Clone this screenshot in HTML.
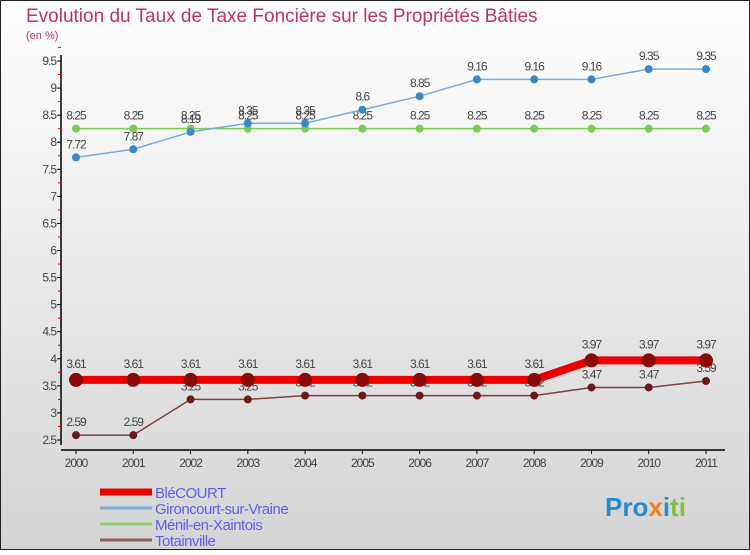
<!DOCTYPE html>
<html><head><meta charset="utf-8"><style>
body{margin:0}
#c{width:750px;height:550px;position:relative;font-family:"Liberation Sans",sans-serif}
</style></head><body>
<div id="c">
<svg id="s" width="750" height="550" xmlns="http://www.w3.org/2000/svg">
<defs><linearGradient id="bg" x1="0" y1="0" x2="0" y2="1"><stop offset="0" stop-color="#ffffff"/><stop offset="1" stop-color="#d4d4d4"/></linearGradient></defs>
<rect x="0.5" y="0.5" width="749" height="549" fill="url(#bg)" stroke="#222"/>
<text x="26" y="22" font-size="19" fill="#c0306a">Evolution du Taux de Taxe Foncière sur les Propriétés Bâties</text>
<text x="26" y="39" font-size="11" fill="#c0306a">(en %)</text>
<g id="g"></g>
<text x="605" y="516" font-size="26" font-weight="bold"><tspan fill="#2a8ad0">Pro</tspan><tspan fill="#f08020">x</tspan><tspan fill="#2a8ad0">i</tspan><tspan fill="#80c040">ti</tspan></text>
</svg>
</div>
<script>
const years=[2000,2001,2002,2003,2004,2005,2006,2007,2008,2009,2010,2011];
const yTicks=[2.5,3,3.5,4,4.5,5,5.5,6,6.5,7,7.5,8,8.5,9,9.5];
const blecourt=[3.61,3.61,3.61,3.61,3.61,3.61,3.61,3.61,3.61,3.97,3.97,3.97];
const gironcourt=[7.72,7.87,8.19,8.35,8.35,8.6,8.85,9.16,9.16,9.16,9.35,9.35];
const menil=[8.25,8.25,8.25,8.25,8.25,8.25,8.25,8.25,8.25,8.25,8.25,8.25];
const totainville=[2.59,2.59,3.25,3.25,3.32,3.32,3.32,3.32,3.32,3.47,3.47,3.59];
const NS="http://www.w3.org/2000/svg",g=document.getElementById('g');
const X=i=>76+i*(706-76)/(years.length-1);
const Y=v=>440-(v-2.5)*(440-61)/7;
function mk(t,a,p){const e=document.createElementNS(NS,t);for(const k in a)e.setAttribute(k,a[k]);(p||g).appendChild(e);return e;}
let ax=mk('line',{x1:61,y1:55,x2:61,y2:445,stroke:'#000','stroke-width':1.5});


let bx=mk('line',{x1:61,y1:450,x2:725,y2:450,stroke:'#000','stroke-width':1.5});


yTicks.forEach(v=>{const y=Y(v);mk('line',{x1:57,y1:y,x2:61,y2:y,stroke:'#000'});
 mk('line',{x1:58,y1:Y(v+0.25),x2:61,y2:Y(v+0.25),stroke:'#e00'});
 const t=mk('text',{x:56,y:y+4,'font-size':12,'text-anchor':'end',fill:'#444','letter-spacing':'-1'});t.textContent=v;
 
 });
years.forEach((yr,i)=>{const x=X(i);mk('line',{x1:x,y1:450,x2:x,y2:454,stroke:'#000'});
 const t=mk('text',{x:x,y:467,'font-size':12,'text-anchor':'middle',fill:'#444','letter-spacing':'-1'});t.textContent=yr;
 
 });
function series(d,col,w,r,dot,name,lab){
 const pl=mk('polyline',{points:d.map((v,i)=>X(i)+','+Y(v)).join(' '),fill:'none',stroke:col,'stroke-width':w});
 
 
 d.forEach((v,i)=>{const c=mk('circle',{cx:X(i),cy:Y(v),r:r,fill:dot});
  
  
  const t=mk('text',{x:X(i),y:Y(v)-lab,'font-size':12,'text-anchor':'middle',fill:'#444','letter-spacing':'-1'});t.textContent=v;
  
  });
}
series(menil,'#7ccc50',1.5,4,'#7ccc50','menil',9);
series(gironcourt,'#7aacd8',1.5,4,'#3a88c8','gironcourt',9);
series(totainville,'#804040',1.5,4,'#6a1a1a','totainville',9);
series(blecourt,'#ee0000',8,7,'#8a0a0a','blecourt',12);
const names=['BléCOURT','Gironcourt-sur-Vraine','Ménil-en-Xaintois','Totainville'];
const cols=['#ee0000','#7aacd8','#90d070','#905858'];
names.forEach((n,i)=>{const y=492+i*16;
 const l=mk('line',{x1:100,y1:y,x2:152,y2:y,stroke:cols[i],'stroke-width':i?3:7});
 
 
 const t=mk('text',{x:155,y:y+6,'font-size':15,fill:'#6060f0','letter-spacing':'-0.5'});t.textContent=n;
 
 });
</script>
</body></html>
